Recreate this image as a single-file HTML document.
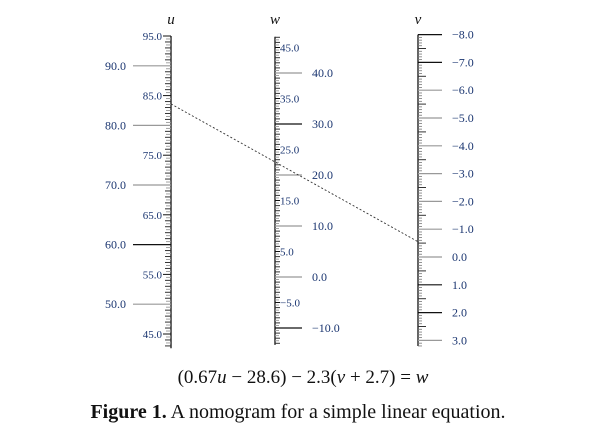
<!DOCTYPE html>
<html><head><meta charset="utf-8"><style>
html,body{margin:0;padding:0;background:#fff;width:589px;height:440px;overflow:hidden}
svg{display:block}
text{font-family:"Liberation Serif",serif}
</style></head><body>
<svg id="nomo" width="589" height="440" viewBox="0 0 589 440" xmlns="http://www.w3.org/2000/svg">
<g id="axes"></g>
<text x="303" y="383" text-anchor="middle" font-size="19" fill="#111">(0.67<tspan font-style="italic">u</tspan> − 28.6) − 2.3(<tspan font-style="italic">v</tspan> + 2.7) = <tspan font-style="italic">w</tspan></text>
<text x="298" y="418" text-anchor="middle" font-size="20" fill="#111"><tspan font-weight="bold">Figure 1.</tspan> A nomogram for a simple linear equation.</text>
</svg>
<script>
const uRange = [42.6, 95];
const wRange = [-13.3, 47.1];
const vRange = [-8, 3.2];
const isoU = [83.6];
const isoV = [-0.55];

const NS = "http://www.w3.org/2000/svg";
const g = document.getElementById('axes');
function el(tag, attrs, parent){const e=document.createElementNS(NS,tag);for(const k in attrs)e.setAttribute(k,attrs[k]);(parent||g).appendChild(e);return e;}
function fmt(v){return (v<0?'−':'')+Math.abs(v).toFixed(1);}
const uY = v => 36 + (95 - v) * 5.96;
const wY = v => 277 - v * 5.1;
const vY = v => 257 + v * 27.8;
const LBL = "#1a3570";

// u axis
(function(){
  const ax = el('g',{});
  
  
  const x=171;
  el('line',{x1:x,y1:uY(95),x2:x,y2:uY(uRange[0]),stroke:'#111','stroke-width':1.3},ax);
  const t=el('text',{x:x,y:24,'text-anchor':'middle','font-size':15,'font-style':'italic',fill:'#111'},ax);t.textContent='u';
  
  for(let k=Math.ceil(uRange[0]*2);k<=190;k++){
    const v=k/2,y=uY(v);
    if(k%20==0){el('line',{x1:x-38,y1:y,x2:x,y2:y,stroke:v==60?'#111':'#999','stroke-width':1.2},ax);
      const l=el('text',{x:x-45,y:y+4,'text-anchor':'end','font-size':12,fill:LBL},ax);l.textContent=fmt(v);
      }
    else if(k%10==0){el('line',{x1:x-8,y1:y,x2:x,y2:y,stroke:'#111','stroke-width':1},ax);
      const l=el('text',{x:x-9,y:y+4,'text-anchor':'end','font-size':11,fill:LBL},ax);l.textContent=fmt(v);
      }
    else if(k%2==0){el('line',{x1:x-6,y1:y,x2:x,y2:y,stroke:'#333','stroke-width':1},ax);}
    else {el('line',{x1:x-5,y1:y,x2:x,y2:y,stroke:'#999','stroke-width':0.9},ax);}
  }
})();

// w axis
(function(){
  const ax = el('g',{});
  
  
  const x=275;
  el('line',{x1:x,y1:wY(wRange[1]),x2:x,y2:wY(wRange[0]),stroke:'#111','stroke-width':1.3},ax);
  const t=el('text',{x:x,y:24,'text-anchor':'middle','font-size':15,'font-style':'italic',fill:'#111'},ax);t.textContent='w';
  
  for(let k=Math.ceil(wRange[0]*2);k<=Math.floor(wRange[1]*2);k++){
    const v=k/2,y=wY(v);
    if(k%20==0){el('line',{x1:x,y1:y,x2:x+27,y2:y,stroke:(v==30||v==-10)?'#111':'#999','stroke-width':1.2},ax);
      const l=el('text',{x:x+37,y:y+4,'text-anchor':'start','font-size':12,fill:LBL},ax);l.textContent=fmt(v);
      }
    else if(k%10==0){el('line',{x1:x,y1:y,x2:x+5,y2:y,stroke:'#111','stroke-width':1},ax);
      const l=el('text',{x:x+5,y:y+4,'text-anchor':'start','font-size':11,fill:LBL},ax);l.textContent=fmt(v);
      }
    else if(k%2==0){el('line',{x1:x,y1:y,x2:x+5,y2:y,stroke:'#333','stroke-width':1},ax);}
    else {el('line',{x1:x,y1:y,x2:x+4,y2:y,stroke:'#999','stroke-width':0.9},ax);}
  }
})();

// v axis
(function(){
  const ax = el('g',{});
  
  
  const x=418;
  el('line',{x1:x,y1:vY(vRange[0]),x2:x,y2:vY(vRange[1]),stroke:'#111','stroke-width':1.3},ax);
  const t=el('text',{x:x,y:24,'text-anchor':'middle','font-size':15,'font-style':'italic',fill:'#111'},ax);t.textContent='v';
  
  for(let k=Math.round(vRange[0]*10);k<=Math.round(vRange[1]*10);k++){
    const v=k/10,y=vY(v);
    if(k%10==0){const blk=[-8,-7,1,2].includes(Math.round(v));
      el('line',{x1:x,y1:y,x2:x+24,y2:y,stroke:blk?'#111':'#999','stroke-width':1.2},ax);
      const l=el('text',{x:x+34,y:y+4,'text-anchor':'start','font-size':12,fill:LBL},ax);l.textContent=fmt(v);
      }
    else if(k%5==0){el('line',{x1:x,y1:y,x2:x+8,y2:y,stroke:'#333','stroke-width':1},ax);}
    else {el('line',{x1:x,y1:y,x2:x+4,y2:y,stroke:'#777','stroke-width':0.8},ax);}
  }
})();

// isopleth
for(let i=0;i<isoU.length;i++){
  const l=el('line',{x1:171,y1:uY(isoU[i]),x2:418,y2:vY(isoV[i]),stroke:'#333','stroke-width':0.9,'stroke-dasharray':'2,2'});
  
  
}
</script>
</body></html>
